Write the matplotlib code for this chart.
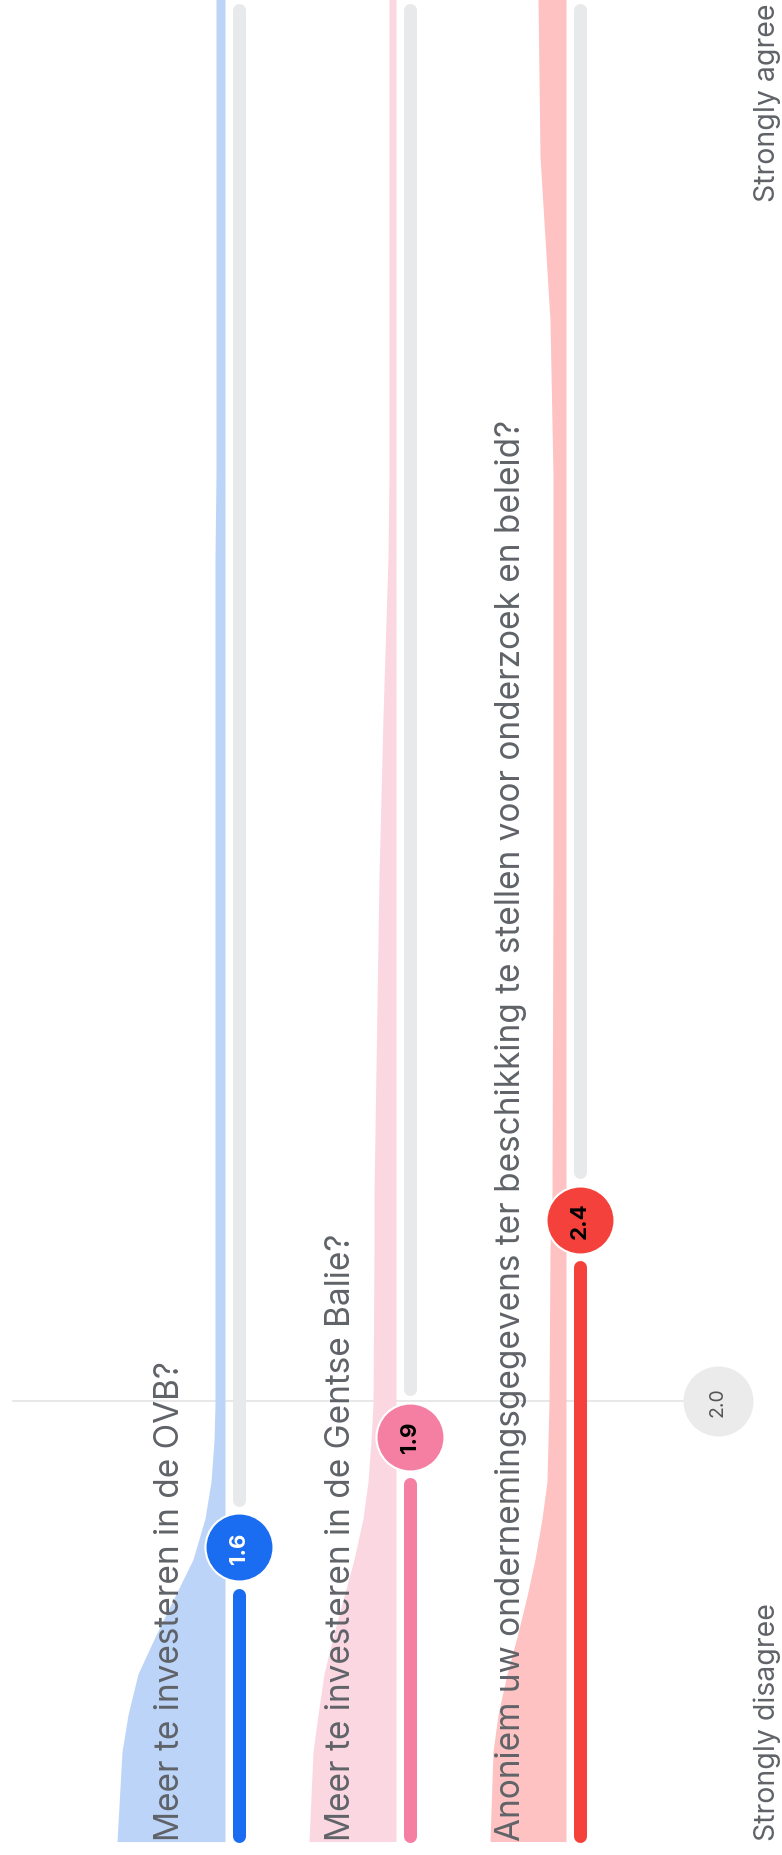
import numpy as np
import matplotlib.pyplot as plt

# =========================
# DATA
# =========================
QUESTIONS = [
    "Meer te investeren in de OVB?",
    "Meer te investeren in de Gentse Balie?",
    "Anoniem uw ondernemingsgegevens ter beschikking te stellen voor onderzoek en beleid?",
]
MEANS = [1.60, 1.87, 2.40]          # shown rounded to 1 decimal
SCALE_LABELS = ["Strongly disagree", "Strongly agree"]

# answer density (width of the shaded area) read along the scale
DENSITY_GRID = [0.88, 1.10, 1.19, 1.29, 1.38, 1.48, 1.57, 1.67, 1.76, 1.86, 1.95,
                2.33, 2.46, 3.24, 3.63, 4.02, 4.22, 4.60, 4.80, 5.00, 5.39]
DENSITY_Q1 = [1.08, 1.03, 0.97, 0.87, 0.70, 0.50, 0.32, 0.20, 0.14, 0.11, 0.10,
              0.10, 0.10, 0.10, 0.10, 0.10, 0.09, 0.09, 0.09, 0.09, 0.09]
DENSITY_Q2 = [0.87, 0.83, 0.78, 0.72, 0.63, 0.52, 0.42, 0.33, 0.28, 0.25, 0.23,
              0.22, 0.22, 0.17, 0.13, 0.08, 0.07, 0.07, 0.07, 0.07, 0.07]
DENSITY_Q3 = [0.76, 0.73, 0.68, 0.59, 0.49, 0.39, 0.31, 0.24, 0.19, 0.18, 0.17,
              0.16, 0.14, 0.13, 0.13, 0.13, 0.13, 0.16, 0.21, 0.26, 0.28]
DENSITIES = [DENSITY_Q1, DENSITY_Q2, DENSITY_Q3]

# =========================
# STYLE / LAYOUT
# =========================
DARK = ["#1a6cf0", "#f57fa3", "#f5413b"]
LIGHT = ["#bcd4f8", "#fbd7e2", "#fdc2c1"]
BUBBLE_TEXT = ["white", "black", "black"]
TRACK = "#e8e9eb"
TEXT_GREY = "#5f6368"
FONT = ["Inter", "DejaVu Sans"]

W, H = 782, 1856
PX = 409.0                 # pixels per scale unit
Y_TOP = 5.385
Y_BOTTOM = Y_TOP - H / PX
TRACK_X = [239, 410, 580]
BAR_LW = 13 * 0.72         # 13 px in points
CAP = 6.5 / PX
BAR_START = Y_TOP - 1843 / PX + CAP
BAR_END = Y_TOP - 4 / PX - CAP
GAP = 41 / PX
AREA_OFFSET = 14
AREA_SCALE = 100
LABEL_OFFSET = 60


def v_at(px_from_top):
    return Y_TOP - px_from_top / PX


fig = plt.figure(figsize=(W / 100, H / 100), dpi=100)
ax = fig.add_axes([0, 0, 1, 1])
ax.set_xlim(0, W)
ax.set_ylim(Y_BOTTOM, Y_TOP)
ax.axis("off")

# average line + bubble
avg = float(np.mean(MEANS))
ax.plot([13, 690], [avg, avg], color="#e4e4e4", lw=1.2, zorder=1)
ax.scatter([718], [avg], s=(70 * 0.72) ** 2, color="#ebebeb", zorder=5, linewidths=0)
ax.text(718, avg, f"{avg:.1f}", rotation=90, ha="center", va="center",
        fontsize=14, color="#555555", family=FONT, zorder=6)

for i, q in enumerate(QUESTIONS):
    x = TRACK_X[i]
    m = MEANS[i]
    xr = x - AREA_OFFSET
    dens = np.array(DENSITIES[i]) * AREA_SCALE

    # shaded answer distribution
    ax.fill_betweenx(DENSITY_GRID, xr - dens, xr, color=LIGHT[i], lw=0, zorder=2)

    # coloured bar up to the mean, grey track above
    ax.plot([x, x], [BAR_START, m - GAP - CAP], color=DARK[i], lw=BAR_LW,
            solid_capstyle="round", zorder=3)
    ax.plot([x, x], [m + GAP + CAP, BAR_END], color=TRACK, lw=BAR_LW,
            solid_capstyle="round", zorder=3)

    # mean bubble
    ax.scatter([x], [m], s=(68 * 0.72) ** 2, color=DARK[i], zorder=5,
               edgecolors="white", linewidths=1.5)
    ax.text(x, m, f"{m:.1f}", rotation=90, ha="center", va="center",
            fontsize=16, fontweight="bold", color=BUBBLE_TEXT[i], family=FONT,
            zorder=6)

    # question text
    ax.text(x - LABEL_OFFSET, v_at(1841), q, rotation=90, rotation_mode="anchor",
            ha="left", va="baseline", fontsize=24, color=TEXT_GREY,
            family=FONT, zorder=4)

# scale ends
ax.text(775, v_at(1841), SCALE_LABELS[0], rotation=90, rotation_mode="anchor",
        ha="left", va="baseline", fontsize=20.5, color=TEXT_GREY, family=FONT)
ax.text(775, v_at(3), SCALE_LABELS[1], rotation=90, rotation_mode="anchor",
        ha="right", va="baseline", fontsize=20.5, color=TEXT_GREY, family=FONT)

fig.savefig("out.png", dpi=100, facecolor="white")
